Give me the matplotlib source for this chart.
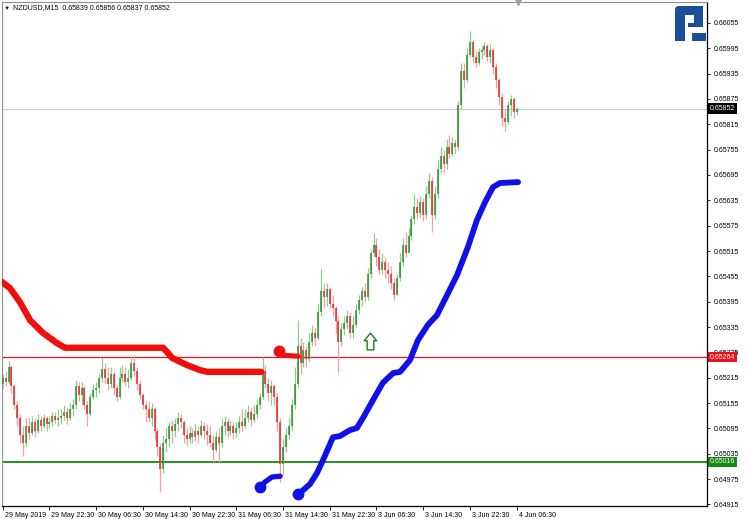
import matplotlib
matplotlib.use("Agg")
import matplotlib.pyplot as plt
import matplotlib.patches as mpatches
import matplotlib.transforms as mtransforms
from matplotlib.path import Path
import numpy as np

plt.rcParams['font.family'] = ['Liberation Sans', 'DejaVu Sans']

# NZDUSD, candles (30 min each) in 5-digit points
first_open = 65200
closes = [65215, 65205, 65240, 65195, 65150, 65120, 65080, 65060, 65100, 65085,
          65110, 65090, 65115, 65100, 65120, 65105, 65110, 65125, 65115, 65120,
          65125, 65135, 65120, 65140, 65150, 65195, 65175, 65190, 65150, 65130,
          65170, 65185, 65190, 65215, 65235, 65215, 65200, 65225, 65190, 65170,
          65215, 65225, 65205, 65215, 65250, 65230, 65200, 65175, 65150, 65140,
          65120, 65140, 65090, 65050, 65000, 65060, 65070, 65100, 65090, 65105,
          65120, 65110, 65080, 65070, 65085, 65075, 65090, 65080, 65100, 65090,
          65080, 65060, 65045, 65075, 65060, 65100, 65110, 65090, 65100, 65085,
          65095, 65110, 65100, 65120, 65135, 65115, 65130, 65150, 65170, 65230,
          65200, 65180, 65195, 65170, 65110, 65010, 65050, 65080, 65100, 65150,
          65200, 65290, 65250, 65280, 65260, 65300, 65320, 65310, 65370, 65420,
          65405, 65425, 65390, 65380, 65350, 65300, 65330, 65345, 65360, 65320,
          65340, 65375, 65400, 65420, 65405, 65460, 65510, 65530, 65500, 65470,
          65490, 65470, 65460, 65440, 65410, 65450, 65490, 65530, 65510, 65550,
          65590, 65620, 65605, 65630, 65600, 65650, 65680, 65600, 65650, 65710,
          65740, 65720, 65760, 65745, 65770, 65760, 65860, 65940, 65920, 65980,
          66010, 65975, 65960, 65985, 65990, 66000, 65975, 65990, 65950, 65920,
          65880, 65830, 65820, 65860, 65875, 65845, 65852]
highs = [65225, 65230, 65255, 65245, 65200, 65160, 65130, 65100, 65120, 65120,
         65125, 65120, 65130, 65125, 65130, 65125, 65125, 65135, 65135, 65140,
         65140, 65150, 65145, 65155, 65165, 65210, 65205, 65205, 65195, 65160,
         65180, 65200, 65205, 65225, 65262, 65250, 65240, 65240, 65230, 65200,
         65240, 65245, 65240, 65235, 65265, 65268, 65240, 65210, 65180, 65160,
         65160, 65155, 65145, 65095, 65060, 65080, 65095, 65110, 65115, 65120,
         65135, 65130, 65115, 65095, 65100, 65095, 65105, 65100, 65115, 65110,
         65105, 65100, 65080, 65090, 65095, 65120, 65125, 65120, 65115, 65110,
         65110, 65125, 65140, 65140, 65150, 65145, 65150, 65165, 65180, 65264,
         65245, 65215, 65210, 65200, 65180, 65120, 65070, 65095, 65120, 65165,
         65240, 65351, 65310, 65300, 65290, 65320, 65340, 65335, 65390, 65472,
         65440, 65440, 65430, 65410, 65385, 65360, 65345, 65360, 65375, 65370,
         65360, 65390, 65410, 65430, 65440, 65475, 65520, 65558, 65545, 65520,
         65510, 65500, 65490, 65480, 65450, 65460, 65510, 65545, 65560, 65570,
         65600, 65650, 65640, 65645, 65640, 65670, 65700, 65690, 65670, 65730,
         65760, 65755, 65780, 65790, 65785, 65780, 65870, 65960, 65960, 65995,
         66036, 66015, 65990, 65995, 66000, 66010, 66005, 66005, 65995, 65960,
         65925, 65890, 65850, 65870, 65885, 65880, 65856]
lows = [65190, 65195, 65200, 65180, 65140, 65100, 65060, 65030, 65050, 65070,
        65080, 65075, 65085, 65090, 65095, 65090, 65095, 65100, 65105, 65100,
        65105, 65115, 65105, 65115, 65125, 65140, 65160, 65150, 65140, 65100,
        65125, 65165, 65170, 65180, 65205, 65200, 65185, 65190, 65175, 65160,
        65165, 65205, 65195, 65190, 65210, 65220, 65185, 65165, 65140, 65110,
        65110, 65100, 65070, 65030, 64945, 64990, 65040, 65050, 65060, 65075,
        65090, 65095, 65060, 65055, 65060, 65060, 65065, 65060, 65075, 65070,
        65055, 65050, 65015, 65040, 65015, 65050, 65080, 65075, 65080, 65070,
        65075, 65085, 65090, 65095, 65110, 65100, 65110, 65120, 65140, 65165,
        65190, 65160, 65150, 65150, 65090, 64968, 64985, 65040, 65070, 65090,
        65140, 65190, 65225, 65240, 65240, 65255, 65290, 65290, 65305, 65360,
        65380, 65385, 65380, 65360, 65320, 65229, 65290, 65315, 65330, 65310,
        65310, 65335, 65365, 65385, 65395, 65400, 65450, 65500, 65480, 65460,
        65460, 65450, 65440, 65425, 65399, 65410, 65445, 65480, 65500, 65515,
        65540, 65580, 65590, 65595, 65585, 65590, 65640, 65560, 65590, 65640,
        65700, 65700, 65710, 65735, 65740, 65745, 65755, 65850, 65900, 65915,
        65975, 65960, 65950, 65955, 65970, 65980, 65965, 65960, 65935, 65900,
        65860, 65810, 65800, 65815, 65835, 65830, 65837]

# indicator dots (candle index, price points)
red1_idx = [-0.3, 2.5, 5.9, 9.4, 13.8, 18.6, 21.3, 54.9, 56.3, 58.0, 63.1, 67.6, 70.0, 88.5]
red1_val = [65442, 65427, 65394, 65351, 65321, 65297, 65286, 65286, 65276, 65262, 65245, 65233, 65229, 65229]
red2_idx = [94.7, 96.4, 101.1]
red2_val = [65278, 65268, 65266]
blue1_idx = [88.1, 89.8, 92.2, 95.0]
blue1_val = [64956, 64968, 64980, 64982]
blue2_idx = [101.2, 102.9, 105.2, 107.6, 109.7, 113.1, 115.5, 118.9, 121.3, 123.4, 126.8,
             130.2, 133.7, 136.1, 139.5, 142.2, 145.6, 148.7, 152.2, 155.6, 159.3, 162.4,
             165.2, 167.9, 170.3, 176.5]
blue2_val = [64940, 64949, 64963, 64989, 65020, 65074, 65077, 65091, 65096, 65120, 65162,
             65203, 65226, 65229, 65257, 65304, 65340, 65363, 65411, 65458, 65524, 65588,
             65631, 65666, 65676, 65678]

signal_idx = 125.9
signal_val = 65301

level_red = 0.65264
level_green = 0.65016
last_price = 0.65852

price_ticks = [0.66055, 0.65995, 0.65935, 0.65875, 0.65815, 0.65755, 0.65695, 0.65635,
               0.65575, 0.65515, 0.65455, 0.65395, 0.65335, 0.65275, 0.65215, 0.65155,
               0.65095, 0.65035, 0.64975, 0.64915]
time_labels = ["29 May 2019", "29 May 22:30", "30 May 06:30", "30 May 14:30", "30 May 22:30",
               "31 May 06:30", "31 May 14:30", "31 May 22:30", "3 Jun 06:30", "3 Jun 14:30",
               "3 Jun 22:30", "4 Jun 06:30"]
time_pos = [0, 16, 32, 48, 64, 80, 96, 112, 128, 144, 160, 176]

pt = 1e-5
c = np.array(closes) * pt
o = np.concatenate([[first_open * pt], c[:-1]])
h = np.array(highs) * pt
l = np.array(lows) * pt
x = np.arange(len(c))

fig = plt.figure(figsize=(7.48, 5.19), dpi=100)
ax = fig.add_axes([2 / 748, 13 / 519, 705 / 748, 504 / 519])
ax.set_xlim(-0.24, 241.2)
ax.set_ylim(0.649114, 0.661044)

# horizontal levels
ax.axhline(last_price, color='#c8c8c8', lw=0.8, zorder=1)
ax.axhline(level_red, color='#e8141c', lw=0.9, zorder=2)
ax.axhline(level_green, color='#138a13', lw=1.3, zorder=2)

# candles
up = c >= o
col = np.where(up, '#2f8f2f', '#e0262a')
wick_col = np.where(up, '#8fca8f', '#f4a0a0')
ax.vlines(x, l, h, colors=wick_col, lw=0.9, zorder=3)
ax.vlines(x, np.minimum(o, c), np.maximum(o, c), colors=col, lw=1.1, zorder=4)

# indicators
red_c = '#f20d0d'
blue_c = '#1010e8'
ax.plot(red1_idx, np.array(red1_val) * pt, color=red_c, lw=4.6, solid_capstyle='round', zorder=5)
ax.plot(red2_idx, np.array(red2_val) * pt, color=red_c, lw=3.6, solid_capstyle='round', zorder=5)
ax.plot(red2_idx[:1], [red2_val[0] * pt], 'o', color=red_c, ms=7.5, zorder=6)
ax.plot(blue1_idx, np.array(blue1_val) * pt, color=blue_c, lw=3.8, solid_capstyle='round', zorder=5)
ax.plot(blue1_idx[:1], [blue1_val[0] * pt], 'o', color=blue_c, ms=7.5, zorder=6)
ax.plot(blue2_idx, np.array(blue2_val) * pt, color=blue_c, lw=4.2, solid_capstyle='round', zorder=5)
ax.plot(blue2_idx[:1], [blue2_val[0] * pt], 'o', color=blue_c, ms=7.5, zorder=6)

# buy signal arrow
arrow = Path([(0, 1), (0.75, 0.1), (0.4, 0.1), (0.4, -1), (-0.4, -1), (-0.4, 0.1), (-0.75, 0.1), (0, 1)],
             [Path.MOVETO] + [Path.LINETO] * 6 + [Path.CLOSEPOLY])
ax.plot([signal_idx], [signal_val * pt], marker=arrow, ms=12, mfc='white', mec='#1f7a2a',
        mew=1.0, ls='none', zorder=6)

# axes styling
for s in ['left', 'top']:
    ax.spines[s].set_color('#909090')
    ax.spines[s].set_linewidth(0.8)
for s in ['right', 'bottom']:
    ax.spines[s].set_color('black')
    ax.spines[s].set_linewidth(0.9)

ax.yaxis.tick_right()
ax.set_yticks(price_ticks)
ax.set_yticklabels([f"{v:.5f}" for v in price_ticks])
ax.tick_params(axis='y', length=2.5, width=0.6, pad=2, labelsize=5, colors='black')
ax.set_xticks(time_pos)
ax.set_xticklabels(time_labels)
ax.tick_params(axis='x', length=3, width=0.6, pad=1.5, labelsize=5)
shift = mtransforms.ScaledTranslation(2 / 100, 0, fig.dpi_scale_trans)
for lab in ax.get_xticklabels():
    lab.set_horizontalalignment('left')
    lab.set_transform(lab.get_transform() + shift)

# price labels on the right
yt = ax.get_yaxis_transform()
for val, face in [(last_price, 'black'), (level_red, '#e8141c'), (level_green, '#138a13')]:
    ax.text(1.0 + 3 / 705, val, f"{val:.5f}", transform=yt, fontsize=5, color='white',
            va='center', ha='left', zorder=10,
            bbox=dict(boxstyle='square,pad=0.25', fc=face, ec='none'))

# header
fig.text(4 / 748, 1 - 8 / 519, "\u25bc", fontsize=4.5, va='center', ha='left', color='#202020')
fig.text(13 / 748, 1 - 8 / 519, "NZDUSD,M15  0.65839 0.65856 0.65837 0.65852",
         fontsize=5, va='center', ha='left', color='black')

# chart shift marker
ax.plot([176.5], [1.0], marker='v', ms=4, color='#a0a0a0', transform=ax.get_xaxis_transform(),
        clip_on=False, zorder=7)

# logo
lax = fig.add_axes([675 / 748, 1 - 41 / 519, 31 / 748, 35 / 519])
lax.set_xlim(0, 31)
lax.set_ylim(35, 0)
lax.axis('off')
logo_c = '#1b4d9b'
lax.add_patch(mpatches.FancyBboxPatch((0, 0), 28, 9, boxstyle='round,pad=0,rounding_size=4',
                                      color=logo_c, lw=0))
for rx, ry, rw, rh in [(0, 4, 10, 31), (14, 0, 14, 9), (19, 0, 9, 21), (13, 17, 15, 4), (17, 27, 14, 8)]:
    lax.add_patch(mpatches.Rectangle((rx, ry), rw, rh, color=logo_c, lw=0))

fig.savefig("out.png", dpi=100)
